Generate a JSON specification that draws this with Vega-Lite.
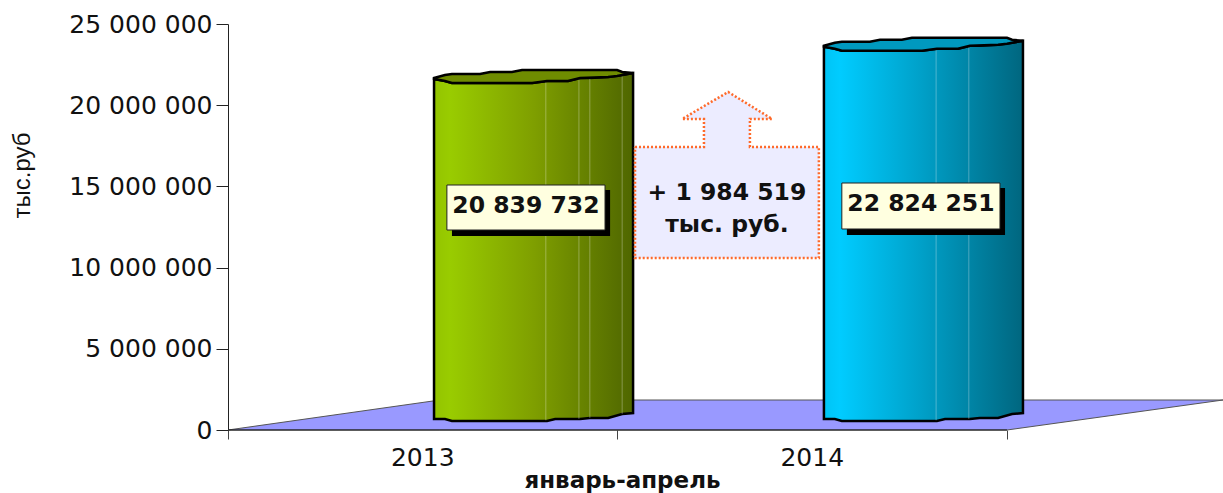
{
"$schema":"https://vega.github.io/schema/vega-lite/v6.json",
"autosize":{"type":"none"},
"width":995,"height":406,
"padding":{"left":228,"top":24,"right":0,"bottom":63},
"background":"white",
"config":{"view":{"stroke":null},"font":"Liberation Sans"},
"datasets":{
"floor":[{"x":0,"y":0,"y2":0},{"x":0.544,"y":1847000,"y2":0},{"x":2,"y":1847000,"y2":0},{"x":2.5546,"y":1847000,"y2":1847000}],
"baseline":[{"x":0,"x2":2,"y":0}],
"body2013":[
{"x":0.529,"y":21613000,"y2":677000},{"x":0.557,"y":21490000,"y2":677000},{"x":0.575,"y":21367000,"y2":554000},{"x":0.781,"y":21367000,"y2":554000},{"x":0.819,"y":21490000,"y2":554000},{"x":0.840,"y":21490000,"y2":677000},{"x":0.873,"y":21490000,"y2":677000},{"x":0.904,"y":21675000,"y2":677000},{"x":0.929,"y":21675000,"y2":739000},{"x":0.976,"y":21736000,"y2":739000},{"x":1.012,"y":21860000,"y2":985000},{"x":1.040,"y":21983000,"y2":1047000}],
"top2013":[
{"x":0.529,"y":21675000,"y2":21613000},{"x":0.557,"y":21860000,"y2":21490000},{"x":0.575,"y":21921000,"y2":21367000},{"x":0.647,"y":21921000,"y2":21367000},{"x":0.673,"y":22044000,"y2":21367000},{"x":0.729,"y":22044000,"y2":21367000},{"x":0.755,"y":22167000,"y2":21367000},{"x":0.781,"y":22167000,"y2":21367000},{"x":0.819,"y":22167000,"y2":21490000},{"x":0.873,"y":22167000,"y2":21490000},{"x":0.904,"y":22167000,"y2":21675000},{"x":0.976,"y":22167000,"y2":21736000},{"x":0.999,"y":22167000,"y2":21798000},{"x":1.012,"y":22044000,"y2":21860000},{"x":1.040,"y":21983000,"y2":21983000}],
"body2014":[
{"x":1.530,"y":23597000,"y2":677000},{"x":1.558,"y":23474000,"y2":677000},{"x":1.576,"y":23351000,"y2":554000},{"x":1.782,"y":23351000,"y2":554000},{"x":1.820,"y":23474000,"y2":554000},{"x":1.841,"y":23474000,"y2":677000},{"x":1.874,"y":23474000,"y2":677000},{"x":1.905,"y":23659000,"y2":677000},{"x":1.930,"y":23659000,"y2":739000},{"x":1.977,"y":23720000,"y2":739000},{"x":2.013,"y":23844000,"y2":985000},{"x":2.041,"y":23967000,"y2":1047000}],
"top2014":[
{"x":1.530,"y":23659000,"y2":23597000},{"x":1.558,"y":23844000,"y2":23474000},{"x":1.576,"y":23905000,"y2":23351000},{"x":1.648,"y":23905000,"y2":23351000},{"x":1.674,"y":24028000,"y2":23351000},{"x":1.730,"y":24028000,"y2":23351000},{"x":1.756,"y":24151000,"y2":23351000},{"x":1.782,"y":24151000,"y2":23351000},{"x":1.820,"y":24151000,"y2":23474000},{"x":1.874,"y":24151000,"y2":23474000},{"x":1.905,"y":24151000,"y2":23659000},{"x":1.977,"y":24151000,"y2":23720000},{"x":2.000,"y":24151000,"y2":23782000},{"x":2.013,"y":24028000,"y2":23844000},{"x":2.041,"y":23967000,"y2":23967000}],
"shine":[
{"x":0.816,"y":21450000,"y2":600000},{"x":0.901,"y":21620000,"y2":680000},{"x":0.929,"y":21650000,"y2":740000},{"x":1.012,"y":21830000,"y2":990000},
{"x":1.818,"y":23440000,"y2":600000},{"x":1.902,"y":23620000,"y2":680000}],
"arrowHead":[{"x":1.166,"y":19150000,"y2":19150000},{"x":1.284,"y":20813000,"y2":19150000},{"x":1.397,"y":19150000,"y2":19150000}],
"arrowBody":[{"x":1.045,"y":17426000,"y2":10591000},{"x":1.222,"y":17426000,"y2":10591000},{"x":1.2221,"y":19150000,"y2":10591000},{"x":1.340,"y":19150000,"y2":10591000},{"x":1.3401,"y":17426000,"y2":10591000},{"x":1.517,"y":17426000,"y2":10591000}],
"arrowOutline":[
{"k":1,"x":1.045,"y":17426000},{"k":2,"x":1.222,"y":17426000},{"k":3,"x":1.222,"y":19150000},{"k":4,"x":1.166,"y":19150000},{"k":5,"x":1.284,"y":20813000},{"k":6,"x":1.397,"y":19150000},{"k":7,"x":1.340,"y":19150000},{"k":8,"x":1.340,"y":17426000},{"k":9,"x":1.517,"y":17426000},{"k":10,"x":1.517,"y":10591000},{"k":11,"x":1.045,"y":10591000},{"k":12,"x":1.045,"y":17426000}],
"labelShadow":[{"x":0.575,"x2":0.981,"y":14778000,"y2":11946000},{"x":1.589,"x2":1.995,"y":14901000,"y2":12007000}],
"labelBox":[{"x":0.562,"x2":0.968,"y":15086000,"y2":12315000},{"x":1.576,"x2":1.982,"y":15209000,"y2":12377000}],
"boldText":[{"x":0.765,"y":13793000,"t":"20 839 732"},{"x":1.779,"y":13916000,"t":"22 824 251"},{"x":1.281,"y":14594000,"t":"+ 1 984 519"},{"x":1.281,"y":12623000,"t":"тыс. руб."}],
"years":[{"x":0.5,"y":-1724000,"t":"2013"},{"x":1.5,"y":-1724000,"t":"2014"}]
},
"encoding":{
"x":{"field":"x","type":"quantitative","scale":{"domain":[0,2.5546],"nice":false,"zero":false},
"axis":{"values":[0,1,2],"labels":false,"tickSize":9,"tickColor":"#444","domain":false,"grid":false,"title":"январь-апрель","titleFont":"DejaVu Sans","titleFontWeight":"bold","titleFontSize":23,"titleColor":"#111","titleX":394,"titleY":50,"titleBaseline":"middle"}},
"y":{"field":"y","type":"quantitative","stack":false,"scale":{"domain":[0,25000000],"nice":false},
"axis":{"values":[0,5000000,10000000,15000000,20000000,25000000],"labelExpr":"replace(format(datum.value,',d'),/,/g,' ')","labelFont":"DejaVu Sans","labelFontSize":25,"labelColor":"#111","labelPadding":4,"tickSize":12,"tickColor":"#222","domainColor":"#222","grid":false,"title":"тыс.руб","titleFont":"Liberation Sans","titleFontWeight":"normal","titleFontSize":24,"titleColor":"#111","titleAngle":-90,"titleX":-206,"titleY":151,"titleBaseline":"middle"}}
},
"layer":[
{"data":{"name":"floor"},"mark":{"type":"area","color":"#9999FF","stroke":"#555555","strokeWidth":1},"encoding":{"y2":{"field":"y2"}}},
{"data":{"name":"baseline"},"mark":{"type":"rule","color":"#111111","strokeWidth":1},"encoding":{"x2":{"field":"x2"}}},
{"data":{"name":"body2013"},"mark":{"type":"area","stroke":"black","strokeWidth":2.5,"color":{"gradient":"linear","x1":0,"y1":0,"x2":1,"y2":0,"stops":[{"offset":0,"color":"#93C400"},{"offset":0.08,"color":"#99CC00"},{"offset":0.5,"color":"#7F9F00"},{"offset":1,"color":"#4F6600"}]}},"encoding":{"y2":{"field":"y2"}}},
{"data":{"name":"body2014"},"mark":{"type":"area","stroke":"black","strokeWidth":2.5,"color":{"gradient":"linear","x1":0,"y1":0,"x2":1,"y2":0,"stops":[{"offset":0,"color":"#00C4F5"},{"offset":0.08,"color":"#00CCFF"},{"offset":0.5,"color":"#009FC7"},{"offset":1,"color":"#00667F"}]}},"encoding":{"y2":{"field":"y2"}}},
{"data":{"name":"shine"},"mark":{"type":"rule","color":"white","opacity":0.3,"strokeWidth":1},"encoding":{"y2":{"field":"y2"}}},
{"data":{"name":"top2013"},"mark":{"type":"area","color":"#6F8C00","stroke":"black","strokeWidth":2.5},"encoding":{"y2":{"field":"y2"}}},
{"data":{"name":"top2014"},"mark":{"type":"area","color":"#0099BF","stroke":"black","strokeWidth":2.5},"encoding":{"y2":{"field":"y2"}}},
{"data":{"name":"arrowHead"},"mark":{"type":"area","color":"#ECECFF"},"encoding":{"y2":{"field":"y2"}}},
{"data":{"name":"arrowBody"},"mark":{"type":"area","color":"#ECECFF"},"encoding":{"y2":{"field":"y2"}}},
{"data":{"name":"arrowOutline"},"mark":{"type":"line","color":"#FF6A2A","strokeWidth":2.5,"strokeDash":[2,2]},"encoding":{"order":{"field":"k","type":"quantitative"}}},
{"data":{"name":"labelShadow"},"mark":{"type":"rect","color":"black"},"encoding":{"x2":{"field":"x2"},"y2":{"field":"y2"}}},
{"data":{"name":"labelBox"},"mark":{"type":"rect","color":"#FFFFE0","stroke":"#222222","strokeWidth":1},"encoding":{"x2":{"field":"x2"},"y2":{"field":"y2"}}},
{"data":{"name":"boldText"},"mark":{"type":"text","font":"DejaVu Sans","fontWeight":"bold","fontSize":23.5,"color":"#111111","baseline":"middle","align":"center"},"encoding":{"text":{"field":"t"}}},
{"data":{"name":"years"},"mark":{"type":"text","font":"DejaVu Sans","fontSize":25,"color":"#111111","baseline":"middle","align":"center"},"encoding":{"text":{"field":"t"}}}
]
}
